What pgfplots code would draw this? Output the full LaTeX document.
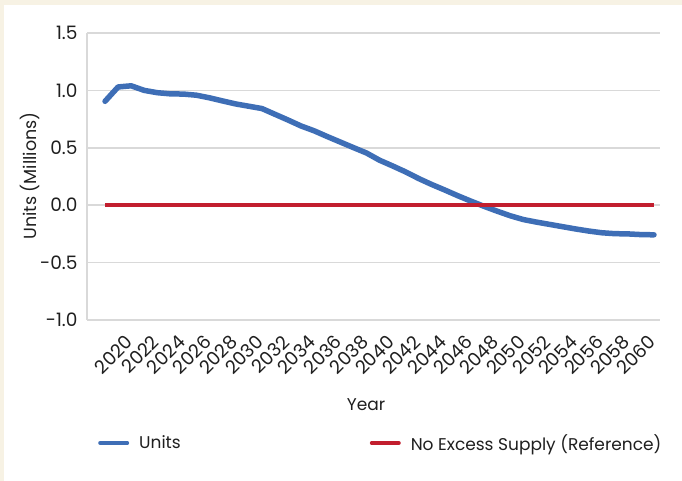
\documentclass[border=0pt]{standalone}
\usepackage{pgfplots}
\pgfplotsset{compat=1.18}
\usepackage{fontspec}
\setmainfont{Poppins}
\definecolor{cream}{RGB}{247,242,228}
\definecolor{unitsblue}{RGB}{62,110,182}
\definecolor{refred}{RGB}{194,30,46}
\definecolor{gridgray}{RGB}{217,217,217}
\begin{document}
\begin{tikzpicture}
\useasboundingbox (0,0) rectangle (682bp,481bp);
\fill[cream] (0,0) rectangle (682bp,481bp);
\fill[white] (4bp,0) rectangle (682bp,476bp);
\begin{axis}[
  at={(87bp,161bp)}, anchor=south west,
  scale only axis, width=573bp, height=287bp,
  xmin=2016.62, xmax=2060.46,
  ymin=-1, ymax=1.5,
  axis x line=bottom, axis y line=left,
  axis line style={gridgray, line width=1.5bp, -},
  ytick={-1,-0.5,0,0.5,1,1.5},
  yticklabels={-1.0,-0.5,0.0,0.5,1.0,1.5},
  xtick={2020,2022,...,2060},
  xticklabels={2020,2022,2024,2026,2028,2030,2032,2034,2036,2038,2040,2042,2044,2046,2048,2050,2052,2054,2056,2058,2060},
  major tick length=0pt,
  ymajorgrids, grid style={gridgray, line width=1.5bp},
  tick label style={font=\fontsize{18.5bp}{22bp}\selectfont, text=black!88},
  yticklabel style={anchor=east, xshift=-6bp},
  xticklabel style={yshift=-18bp, xshift=-1bp, rotate=45, anchor=east, inner sep=1bp},
  /pgf/number format/assume math mode=true,
  legend columns=2,
  legend style={draw=none, fill=none, at={(0.0192,-0.4286)}, anchor=west, inner sep=0pt,
    font=\fontsize{17bp}{20bp}\selectfont, text=black!88,
    /tikz/column 1/.style={column sep=10bp},
    /tikz/column 2/.style={column sep=189bp},
    /tikz/column 3/.style={column sep=10bp},
    nodes={inner sep=0pt}},
  legend image code/.code={\draw[#1, line width=4bp, line cap=round] (0bp,0bp) -- (27bp,0bp);},
  clip=false,
]
\addplot[unitsblue, line width=5.5bp, line join=round, line cap=round] coordinates {
(2018,0.905) (2019,1.03) (2020,1.04) (2021,1.00) (2022,0.98) (2023,0.97) (2024,0.968)
(2025,0.958) (2026,0.935) (2027,0.908) (2028,0.882) (2029,0.862) (2030,0.842) (2031,0.792)
(2032,0.742) (2033,0.69) (2034,0.648) (2035,0.598) (2036,0.55) (2037,0.502) (2038,0.455)
(2039,0.392) (2040,0.342) (2041,0.29) (2042,0.232) (2043,0.18) (2044,0.132) (2045,0.082)
(2046,0.035) (2047,-0.01) (2048,-0.052) (2049,-0.092) (2050,-0.125) (2051,-0.147)
(2052,-0.167) (2053,-0.187) (2054,-0.207) (2055,-0.225) (2056,-0.24) (2057,-0.248)
(2058,-0.25) (2059,-0.256) (2060,-0.258)};
\addlegendentry{Units}
\addplot[refred, line width=4bp] coordinates {(2018,0) (2060,0)};
\addlegendentry{No Excess Supply (Reference)}
\end{axis}
\node[rotate=90, font=\fontsize{17.5bp}{20bp}\selectfont, text=black!88] at (30bp,305bp) {Units (Millions)};
\node[font=\fontsize{17bp}{20bp}\selectfont, text=black!88] at (366bp,76bp) {Year};
\end{tikzpicture}
\end{document}
